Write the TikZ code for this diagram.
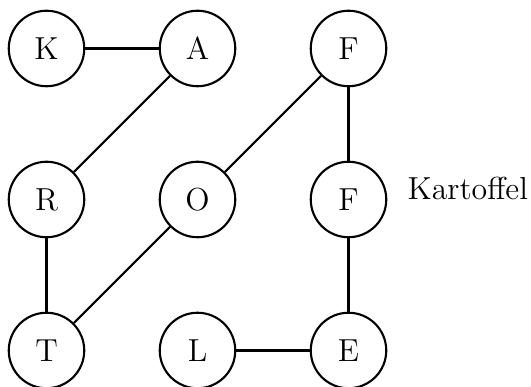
\documentclass[tikz,border=0pt]{standalone}
\begin{document}
\begin{tikzpicture}[
  vtx/.style={draw, circle, thick, minimum size=1cm, inner sep=0pt, font=\large},
  edge/.style={thick}
]
\useasboundingbox (-0.616,0.642) rectangle (6.417,-4.483);
\node[vtx] (K) at (0,0) {K};
\node[vtx] (A) at (2,0) {A};
\node[vtx] (F1) at (4,0) {F};
\node[vtx] (R) at (0,-2) {R};
\node[vtx] (O) at (2,-2) {O};
\node[vtx] (F2) at (4,-2) {F};
\node[vtx] (T) at (0,-4) {T};
\node[vtx] (L) at (2,-4) {L};
\node[vtx] (E) at (4,-4) {E};
\node[anchor=base west, inner sep=0pt, font=\large] (kart) at (4.775,-2) {Kartoffel};
\draw[edge] (K) -- (A);
\draw[edge] (A) -- (R);
\draw[edge] (F1) -- (O);
\draw[edge] (O) -- (T);
\draw[edge] (R) -- (T);
\draw[edge] (F1) -- (F2);
\draw[edge] (F2) -- (E);
\draw[edge] (L) -- (E);
\end{tikzpicture}
\end{document}
